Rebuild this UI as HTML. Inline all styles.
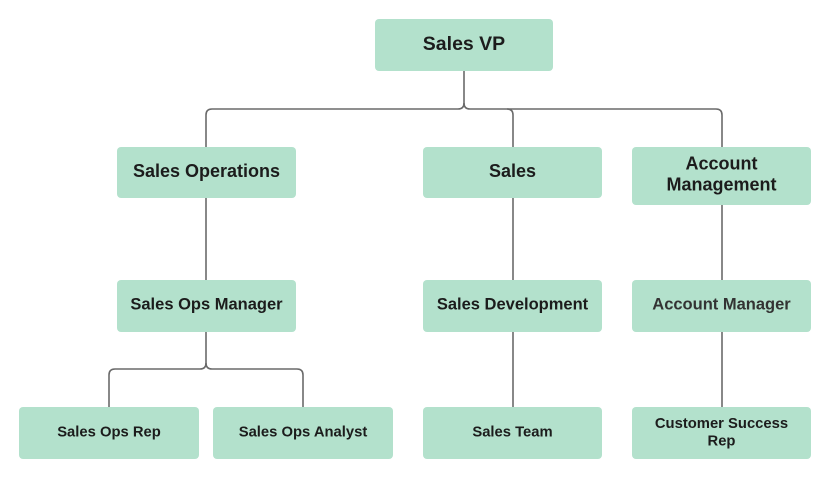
<!DOCTYPE html>
<html>
<head>
<meta charset="utf-8">
<style>
  html,body{margin:0;padding:0;background:#fff;}
  svg{display:block;}
  text{font-family:"Liberation Sans",Arial,sans-serif;font-weight:bold;fill:#1c1c1c;}
</style>
</head>
<body>
<svg width="836" height="480" viewBox="0 0 836 480" xmlns="http://www.w3.org/2000/svg">
  <g fill="none" stroke="#6a6a6a" stroke-width="1.6">
    <!-- top tree -->
    <path d="M464,71 V103 Q464,109 458,109 H212 Q206,109 206,115 V147"/>
    <path d="M464,103 Q464,109 470,109 H507 Q513,109 513,115 V147"/>
    <path d="M507,109 H716 Q722,109 722,115 V147"/>
    <!-- level 2 to 3 -->
    <path d="M206,198 V280"/>
    <path d="M513,198 V280"/>
    <path d="M722,205 V280"/>
    <!-- level 3 to 4 -->
    <path d="M513,332 V407"/>
    <path d="M722,332 V407"/>
    <path d="M206,332 V363 Q206,369 200,369 H115 Q109,369 109,375 V407"/>
    <path d="M206,363 Q206,369 212,369 H297 Q303,369 303,375 V407"/>
  </g>
  <g fill="#b3e1cc">
    <rect x="375" y="19" width="178" height="52" rx="4"/>
    <rect x="117" y="147" width="179" height="51" rx="4"/>
    <rect x="423" y="147" width="179" height="51" rx="4"/>
    <rect x="632" y="147" width="179" height="58" rx="4"/>
    <rect x="117" y="280" width="179" height="52" rx="4"/>
    <rect x="423" y="280" width="179" height="52" rx="4"/>
    <rect x="632" y="280" width="179" height="52" rx="4"/>
    <rect x="19" y="407" width="180" height="52" rx="4"/>
    <rect x="213" y="407" width="180" height="52" rx="4"/>
    <rect x="423" y="407" width="179" height="52" rx="4"/>
    <rect x="632" y="407" width="179" height="52" rx="4"/>
  </g>
  <g text-anchor="middle">
    <text x="464" y="50" font-size="19.5">Sales VP</text>
    <text x="206.5" y="177" font-size="18">Sales Operations</text>
    <text x="512.5" y="177" font-size="18">Sales</text>
    <text x="721.5" y="169.5" font-size="18">Account</text>
    <text x="721.5" y="190.5" font-size="18">Management</text>
    <text x="206.5" y="309.5" font-size="16.5">Sales Ops Manager</text>
    <text x="512.5" y="309.5" font-size="16.5">Sales Development</text>
    <text x="721.5" y="309.5" font-size="16.5" style="fill:#333">Account Manager</text>
    <text x="109" y="436.5" font-size="14.8">Sales Ops Rep</text>
    <text x="303" y="436.5" font-size="14.8">Sales Ops Analyst</text>
    <text x="512.5" y="436.5" font-size="14.8">Sales Team</text>
    <text x="721.5" y="428" font-size="14.8">Customer Success</text>
    <text x="721.5" y="445.5" font-size="14.8">Rep</text>
  </g>
</svg>
</body>
</html>
